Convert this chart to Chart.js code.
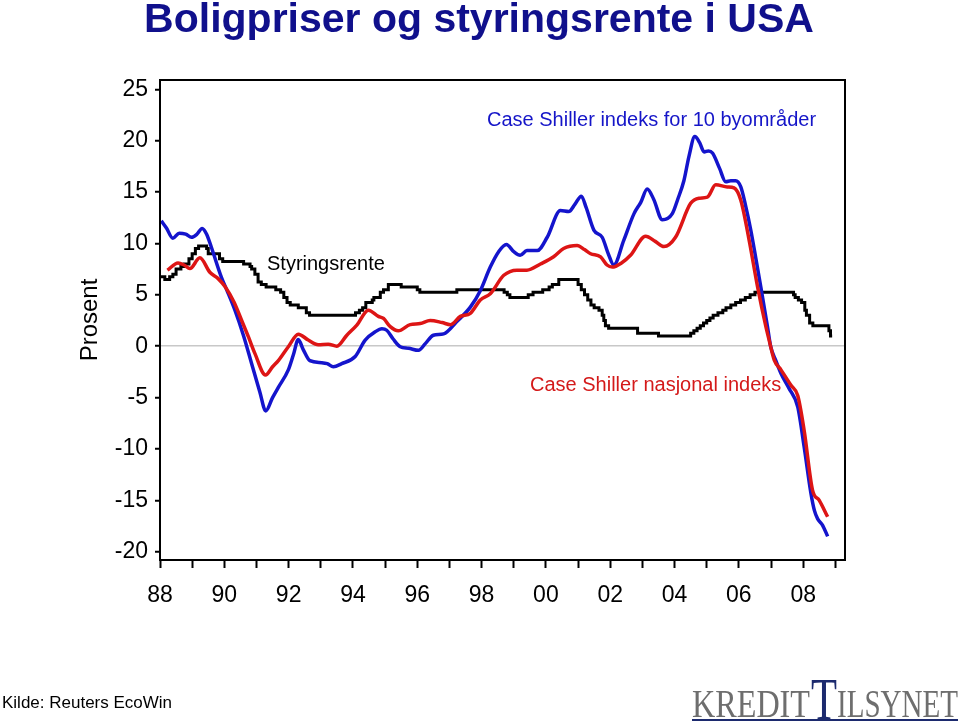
<!DOCTYPE html>
<html>
<head>
<meta charset="utf-8">
<script src="https://cdn.jsdelivr.net/npm/chart.js@4.4.1/dist/chart.umd.min.js"></script>
<style>
  html, body { margin: 0; padding: 0; background: #fff; }
</style>
</head>
<body>
<canvas id="chart" width="960" height="721"></canvas>
<script>
// --- data (decimal year, percent) ---
const cs10Years = [1988.04, 1988.2, 1988.4, 1988.6, 1988.8, 1988.98, 1989.15, 1989.31, 1989.45, 1989.6, 1989.91,
  1990.1, 1990.33, 1990.6, 1990.85, 1991.1, 1991.29, 1991.5, 1991.68, 1991.99, 1992.15, 1992.3, 1992.45, 1992.66,
  1993.03, 1993.2, 1993.39, 1993.65, 1994.07, 1994.38, 1994.69, 1994.9, 1995.05, 1995.25, 1995.47, 1995.73,
  1996.04, 1996.25, 1996.5, 1996.82, 1997.23, 1997.65, 1997.96, 1998.27, 1998.53, 1998.77, 1999.0, 1999.2,
  1999.41, 1999.73, 2000.04, 2000.45, 2000.71, 2000.9, 2001.1, 2001.25, 2001.49, 2001.75, 2001.95, 2002.11,
  2002.42, 2002.74, 2002.95, 2003.15, 2003.35, 2003.62, 2003.93, 2004.1, 2004.29, 2004.45, 2004.63, 2004.78,
  2004.92, 2005.05, 2005.18, 2005.4, 2005.59, 2005.75, 2005.9, 2006.06, 2006.2, 2006.37, 2006.53, 2006.68,
  2006.89, 2006.99, 2007.15, 2007.31, 2007.56, 2007.83, 2008.03, 2008.24, 2008.35, 2008.45, 2008.6, 2008.76];
const cs10Values = [12.2, 11.5, 10.5, 11.0, 10.9, 10.6, 10.9, 11.45, 10.9, 9.6, 6.7,
  5.3, 3.5, 1.0, -1.7, -4.4, -6.3, -5.0, -4.0, -2.3, -0.8, 0.65, -0.3, -1.4,
  -1.6, -1.7, -2.0, -1.7, -1.0, 0.6, 1.4, 1.7, 1.55, 0.7, -0.05, -0.2,
  -0.4, 0.25, 1.07, 1.2, 2.4, 3.8, 5.4, 7.7, 9.2, 9.9, 9.2, 8.85,
  9.3, 9.3, 10.6, 13.2, 13.1, 13.8, 14.6, 13.5, 11.3, 10.6, 8.9, 7.9,
  10.3, 12.9, 14.0, 15.3, 14.3, 12.3, 12.9, 14.3, 16.1, 18.5, 20.4, 19.8,
  18.9, 19.0, 18.8, 17.3, 16.0, 16.1, 16.1, 15.5, 13.8, 11.3, 8.5, 5.8,
  1.9, -0.05, -1.4, -2.65, -4.1, -5.9, -9.8, -14.3, -16.0, -16.8, -17.4, -18.5];

const csNatYears = [1988.23, 1988.56, 1988.75, 1988.93, 1989.24, 1989.55, 1989.8, 1990.02, 1990.3, 1990.54,
  1990.75, 1990.95, 1991.28, 1991.5, 1991.68, 1991.99, 1992.3, 1992.61, 1992.92, 1993.23, 1993.5, 1993.81,
  1994.12, 1994.48, 1994.79, 1994.95, 1995.16, 1995.41, 1995.78, 1996.09, 1996.4, 1996.77, 1997.03, 1997.34,
  1997.65, 1997.96, 1998.27, 1998.69, 1999.1, 1999.41, 1999.83, 2000.24, 2000.55, 2000.97, 2001.2, 2001.39,
  2001.7, 2001.9, 2002.06, 2002.35, 2002.63, 2003.1, 2003.4, 2003.67, 2004.03, 2004.5, 2004.76, 2005.02,
  2005.28, 2005.64, 2005.85, 2006.06, 2006.32, 2006.58, 2006.84, 2006.94, 2007.1, 2007.31, 2007.62, 2007.83,
  2008.03, 2008.29, 2008.5, 2008.76];
const csNatValues = [7.4, 8.1, 7.9, 7.55, 8.6, 7.2, 6.6, 5.8, 4.3, 2.5,
  0.9, -0.7, -2.8, -2.0, -1.4, -0.05, 1.17, 0.6, 0.15, 0.2, 0.0, 1.07,
  2.05, 3.5, 2.9, 2.7, 1.9, 1.5, 2.1, 2.2, 2.5, 2.3, 2.1, 2.9,
  3.2, 4.5, 5.1, 6.9, 7.4, 7.4, 8.0, 8.7, 9.5, 9.8, 9.4, 9.0,
  8.7, 7.9, 7.7, 8.1, 8.85, 10.7, 10.2, 9.7, 10.6, 13.9, 14.4, 14.5,
  15.7, 15.5, 15.4, 14.2, 10.3, 5.8, 1.9, 0.6, -1.35, -2.3, -3.8, -4.8,
  -8.2, -14.0, -15.0, -16.6];

// styringsrente: change dates and new level
const fedYears = [1988.0, 1988.15, 1988.3, 1988.4, 1988.5, 1988.65, 1988.75, 1988.9, 1989.0, 1989.1, 1989.2,
  1989.45, 1989.5, 1989.85, 1989.95, 1990.6, 1990.8, 1990.85, 1990.95, 1991.05, 1991.15, 1991.3, 1991.6,
  1991.75, 1991.85, 1991.95, 1992.05, 1992.3, 1992.55, 1992.65, 1994.08, 1994.2, 1994.3, 1994.4, 1994.6,
  1994.65, 1994.85, 1994.95, 1995.1, 1995.5, 1996.0, 1996.08, 1997.23, 1998.7, 1998.8, 1998.88, 1999.45,
  1999.6, 1999.9, 2000.1, 2000.2, 2000.4, 2001.0, 2001.1, 2001.2, 2001.3, 2001.4, 2001.5, 2001.65, 2001.75,
  2001.8, 2001.85, 2001.95, 2002.85, 2003.5, 2004.5, 2004.6, 2004.7, 2004.8, 2004.9, 2005.0, 2005.1, 2005.2,
  2005.35, 2005.5, 2005.6, 2005.75, 2005.9, 2006.05, 2006.2, 2006.35, 2006.5, 2007.7, 2007.75, 2007.85,
  2007.95, 2008.05, 2008.1, 2008.2, 2008.3, 2008.8, 2008.85, 2008.9];
const fedValues = [6.75, 6.5, 6.75, 7.0, 7.5, 7.75, 8.0, 8.5, 9.0, 9.5, 9.75,
  9.5, 9.0, 8.5, 8.25, 8.0, 7.75, 7.5, 7.0, 6.25, 6.0, 5.75, 5.5,
  5.25, 4.75, 4.25, 4.0, 3.75, 3.25, 3.0, 3.25, 3.5, 3.75, 4.25, 4.5,
  4.75, 5.25, 5.5, 6.0, 5.75, 5.5, 5.25, 5.5, 5.25, 5.0, 4.75, 5.0,
  5.25, 5.5, 5.75, 6.0, 6.5, 6.0, 5.5, 5.0, 4.5, 4.0, 3.75, 3.5, 3.0,
  2.5, 2.0, 1.75, 1.25, 1.0, 1.25, 1.5, 1.75, 2.0, 2.25, 2.5, 2.75, 3.0,
  3.25, 3.5, 3.75, 4.0, 4.25, 4.5, 4.75, 5.0, 5.25, 5.0, 4.75, 4.5,
  4.25, 3.5, 3.0, 2.25, 2.0, 1.5, 1.0, 1.0];

const yTicks = [-20, -15, -10, -5, 0, 5, 10, 15, 20, 25];
const xTickYears = [1988, 1989, 1990, 1991, 1992, 1993, 1994, 1995, 1996, 1997, 1998,
  1999, 2000, 2001, 2002, 2003, 2004, 2005, 2006, 2007, 2008, 2009];
const xLabels = ['88', '90', '92', '94', '96', '98', '00', '02', '04', '06', '08'];

const SANS = '"Liberation Sans", Arial, sans-serif';
const SERIF = '"Liberation Serif", "Times New Roman", serif';

function toPoints(xs, ys) {
    return xs.map((x, i) => ({ x: x, y: ys[i] }));
}

// tekst som ikke hører til aksene
const textPlugin = {
    id: 'texts',
    afterDraw: function(chart) {
        const ctx = chart.ctx;
        const a = chart.chartArea;
        ctx.save();

        // ramme rundt plottet
        ctx.strokeStyle = '#000';
        ctx.lineWidth = 2;
        ctx.strokeRect(a.left, a.top, a.right - a.left, a.bottom - a.top);

        ctx.textBaseline = 'alphabetic';
        ctx.textAlign = 'center';
        ctx.fillStyle = '#10108c';
        ctx.font = 'bold 41px ' + SANS;
        ctx.fillText('Boligpriser og styringsrente i USA', 479, 32);

        ctx.textAlign = 'left';
        ctx.textBaseline = 'middle';
        ctx.font = '20px ' + SANS;
        ctx.fillStyle = '#1515c8';
        ctx.fillText('Case Shiller indeks for 10 byområder', 487, 120);
        ctx.fillStyle = '#000';
        ctx.fillText('Styringsrente', 267, 264);
        ctx.fillStyle = '#d41a1a';
        ctx.fillText('Case Shiller nasjonal indeks', 530, 385);

        // aksetittel
        ctx.save();
        ctx.translate(90, 320);
        ctx.rotate(-Math.PI / 2);
        ctx.textAlign = 'center';
        ctx.fillStyle = '#000';
        ctx.font = '24px ' + SANS;
        ctx.fillText('Prosent', 0, 0);
        ctx.restore();

        ctx.fillStyle = '#000';
        ctx.font = '17px ' + SANS;
        ctx.fillText('Kilde: Reuters EcoWin', 2, 703);

        // logo
        function fitted(text, x, w, base, font, color) {
            ctx.font = font;
            const m = ctx.measureText(text).width;
            ctx.save();
            ctx.translate(x, base);
            ctx.scale(w / m, 1);
            ctx.fillStyle = color;
            ctx.textAlign = 'left';
            ctx.textBaseline = 'alphabetic';
            ctx.fillText(text, 0, 0);
            ctx.restore();
        }
        fitted('KREDIT', 692, 118, 717, '40px ' + SERIF, '#6e6e6e');
        fitted('T', 811, 26, 719, '60px ' + SERIF, '#1c2a6e');
        fitted('ILSYNET', 837, 121, 717, '40px ' + SERIF, '#6e6e6e');
        ctx.fillStyle = '#1c2a6e';
        ctx.fillRect(692, 719, 266, 2);

        ctx.restore();
    }
};

new Chart(document.getElementById('chart').getContext('2d'), {
    type: 'line',
    data: {
        datasets: [{
            label: 'Case Shiller nasjonal indeks',
            data: toPoints(csNatYears, csNatValues),
            borderColor: '#dd1515',
            borderWidth: 3.5,
            pointRadius: 0,
            cubicInterpolationMode: 'monotone',
            order: 1
        }, {
            label: 'Case Shiller indeks for 10 byområder',
            data: toPoints(cs10Years, cs10Values),
            borderColor: '#1414cc',
            borderWidth: 3.5,
            pointRadius: 0,
            cubicInterpolationMode: 'monotone',
            order: 2
        }, {
            label: 'Styringsrente',
            data: toPoints(fedYears, fedValues),
            borderColor: '#000',
            borderWidth: 3,
            pointRadius: 0,
            stepped: true,
            order: 3
        }]
    },
    options: {
        responsive: false,
        animation: false,
        layout: { padding: { top: 80, right: 115, bottom: 0, left: 0 } },
        plugins: {
            legend: { display: false },
            tooltip: { enabled: false },
            title: { display: false }
        },
        scales: {
            x: {
                type: 'linear',
                min: 1988,
                max: 2009.3,
                afterBuildTicks: function(scale) {
                    scale.ticks = xTickYears.map(v => ({ value: v }));
                },
                afterFit: function(scale) { scale.height = 161; },
                grid: {
                    drawOnChartArea: false,
                    tickLength: 8,
                    tickColor: '#000',
                    tickWidth: 2
                },
                border: { color: '#000', width: 2 },
                ticks: {
                    autoSkip: false,
                    maxRotation: 0,
                    padding: 14,
                    color: '#000',
                    font: { family: SANS, size: 23 },
                    callback: function(value) {
                        const k = value - 1988;
                        return k % 2 === 0 ? xLabels[k / 2] : '';
                    }
                }
            },
            y: {
                min: -20.8,
                max: 25.9,
                afterBuildTicks: function(scale) {
                    scale.ticks = yTicks.map(v => ({ value: v }));
                },
                afterFit: function(scale) { scale.width = 160; },
                grid: {
                    color: function(c) {
                        return c.tick && c.tick.value === 0 ? '#c8c8c8' : 'rgba(0,0,0,0)';
                    },
                    lineWidth: 1.5,
                    tickLength: 5,
                    tickColor: '#000',
                    tickWidth: 2
                },
                border: { color: '#000', width: 2 },
                ticks: {
                    padding: 7,
                    color: '#000',
                    font: { family: SANS, size: 23 },
                    callback: function(value) { return String(value); }
                }
            }
        }
    },
    plugins: [textPlugin]
});
</script>
</body>
</html>
